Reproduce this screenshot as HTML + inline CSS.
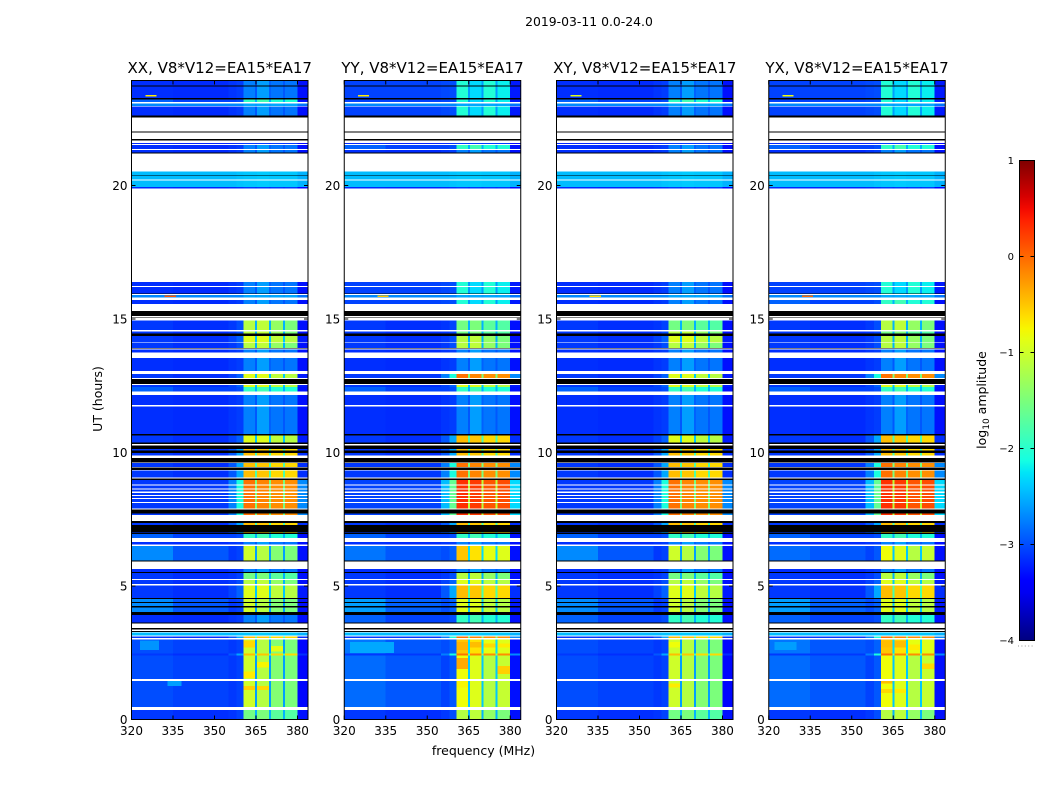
<!DOCTYPE html>
<html lang="en">
<head>
<meta charset="utf-8">
<title>2019-03-11 0.0-24.0 dynamic spectra</title>
<style>
html,body{margin:0;padding:0;background:#fff;}
svg{display:block;}
text{font-family:"DejaVu Sans","Liberation Sans",sans-serif;fill:#000;}
</style>
</head>
<body>
<svg id="chart" xmlns="http://www.w3.org/2000/svg" width="1050" height="800" viewBox="0 0 1050 800">
  <defs>
    <linearGradient id="jet" x1="0" y1="1" x2="0" y2="0"></linearGradient>
  </defs>
  <rect x="0" y="0" width="1050" height="800" fill="#fff"></rect>
  <text x="589" y="26" font-size="12.4" text-anchor="middle">2019-03-11 0.0-24.0</text>
  <text x="483.5" y="755" font-size="12.5" text-anchor="middle">frequency (MHz)</text>
  <text x="0" y="0" font-size="12.5" text-anchor="middle" transform="translate(102,399) rotate(-90)">UT (hours)</text>
  <g id="panels"></g>
  <g id="colorbar"></g>
  <text x="0" y="0" font-size="12.5" text-anchor="middle" transform="translate(986,400) rotate(-90)">log<tspan font-size="9" dy="3">10</tspan><tspan dy="-3"> amplitude</tspan></text>
</svg>
<script>
// ---- Data (log10 amplitude, UT hours, MHz) ----
const panelTitles = ['XX, V8*V12=EA15*EA17', 'YY, V8*V12=EA15*EA17', 'XY, V8*V12=EA15*EA17', 'YX, V8*V12=EA15*EA17'];
const xTickValues = [320, 335, 350, 365, 380];
const yTickValues = [0, 5, 10, 15, 20];
const colorbarTicks = [1, 0, -1, -2, -3, -4];
const columnEdges = [320, 335, 355, 358, 360.5, 364.7, 365.4, 369.7, 370.4, 374.7, 375.4, 380, 384];

// Mean spectrum shapes: one level per frequency column
const spectra = {
  A: [-3.18, -3.20, -3.18, -3.15, -3.10, -3.15, -3.10, -3.15, -3.10, -3.15, -3.10, -3.35],
  B: [-3.15, -3.17, -3.12, -3.08, -2.75, -2.95, -2.60, -2.90, -2.80, -2.95, -2.80, -3.30],
  C: [-3.05, -3.05, -3.02, -3.00, -2.05, -2.60, -2.30, -2.60, -2.05, -2.60, -2.20, -3.25],
  D: [-2.45, -2.45, -2.45, -2.42, -2.40, -2.40, -2.38, -2.40, -2.40, -2.40, -2.40, -2.50],
  E: [-2.70, -2.70, -2.70, -2.70, -2.55, -2.60, -2.55, -2.60, -2.55, -2.60, -2.55, -2.80],
  F: [-3.10, -3.15, -3.12, -3.05, -1.55, -2.50, -1.50, -2.50, -1.70, -2.50, -1.75, -3.30],
  G: [-3.10, -3.15, -3.10, -3.00, -1.15, -2.50, -1.10, -2.50, -1.35, -2.50, -1.50, -3.30],
  H: [-3.10, -3.15, -3.05, -2.90, -0.90, -2.40, -0.90, -2.40, -1.10, -2.40, -1.15, -3.25],
  I: [-3.10, -3.15, -2.95, -2.55, -0.45, -1.80, -0.50, -1.80, -0.60, -1.80, -0.60, -3.15],
  J: [-3.10, -3.10, -2.75, -2.10, -0.05, -1.50, -0.15, -1.50, -0.20, -1.50, -0.20, -2.70],
  K: [-3.05, -3.05, -2.45, -1.65, 0.30, -1.10, 0.25, -1.10, 0.10, -1.10, 0.15, -2.30],
  L: [-3.00, -3.05, -3.10, -3.05, -1.00, -2.60, -1.15, -2.60, -1.45, -2.60, -1.50, -3.35],
  M: [-2.85, -2.95, -3.05, -2.95, -0.80, -2.40, -0.90, -2.40, -1.15, -2.40, -1.05, -3.30],
  P: [-2.80, -2.95, -3.00, -2.90, -0.50, -2.30, -0.65, -2.30, -0.85, -2.30, -0.90, -3.30],
  S: [-2.90, -3.05, -3.05, -3.00, -1.95, -2.50, -1.85, -2.50, -2.05, -2.50, -2.05, -3.30],
  T: [-2.70, -2.95, -3.10, -3.05, -1.00, -2.60, -1.15, -2.60, -1.45, -2.60, -1.50, -3.30],
  U: [-2.60, -2.90, -3.00, -2.90, -0.90, -2.40, -0.90, -2.40, -1.10, -2.40, -1.15, -3.25]
};

// Observed time segments (white gaps between them carry no data)
const rowStart = [0.00, 0.47, 1.51, 2.40, 2.47, 3.05, 3.14, 3.63, 4.03, 4.25, 4.41, 4.55, 5.08, 5.26, 5.52, 5.95, 6.56, 6.80, 7.00, 7.28, 7.66, 7.91, 8.14, 8.30, 8.41, 8.53, 8.66, 8.81, 9.07, 9.45, 9.89, 10.07, 10.38, 10.69, 11.20, 11.78, 12.28, 12.45, 12.79, 13.06, 13.74, 13.92, 14.12, 14.45, 14.58, 15.57, 15.81, 15.96, 16.24, 19.88, 19.95, 20.00, 20.22, 20.40, 21.23, 21.37, 21.56, 22.62, 22.98, 23.12, 23.27, 23.74];
const rowEnd = [0.36, 1.44, 2.40, 2.47, 3.00, 3.10, 3.25, 3.91, 4.20, 4.37, 4.51, 5.02, 5.22, 5.49, 5.63, 6.50, 6.65, 6.95, 7.02, 7.36, 7.72, 8.10, 8.26, 8.37, 8.49, 8.62, 8.77, 8.97, 9.33, 9.60, 9.99, 10.13, 10.63, 11.20, 11.72, 12.15, 12.45, 12.52, 12.94, 13.54, 13.85, 14.10, 14.37, 14.54, 14.94, 15.72, 15.89, 16.20, 16.39, 19.95, 20.00, 20.19, 20.37, 20.52, 21.33, 21.52, 21.60, 22.96, 23.08, 23.23, 23.70, 23.93];
const xxRows = ['F','L','L','I','L','I','D','B','T','T','T','H','G','F','B','T','B','S','I','I','J','J','J','J','J','J','J','J','I','I','I','I','H','B','B','B','S','H','H','B','B','G','H','G','G','B','E','B','B','A','D','D','D','D','B','B','A','B','E','S','B','B'];
const yyRows = ['G','M','M','J','P','J','D','S','U','U','U','I','H','G','B','P','B','S','I','I','K','K','K','K','K','K','K','K','J','J','I','I','I','B','B','B','S','H','J','B','B','G','G','F','F','C','E','C','C','A','D','D','D','D','B','S','A','C','E','C','C','C'];
const xyRows = ['F','L','L','I','L','I','D','S','T','T','T','H','G','F','B','T','B','S','I','I','J','J','J','J','J','J','J','J','I','I','I','I','H','B','B','B','S','H','H','B','B','G','H','G','F','B','E','B','B','A','D','D','D','D','B','B','A','B','E','S','B','B'];
const yxRows = ['G','M','M','J','P','J','D','S','U','U','U','I','H','G','B','M','B','S','I','I','K','K','K','K','K','K','K','K','J','J','I','I','I','B','B','B','S','H','J','B','B','G','G','F','G','S','E','C','C','A','D','D','D','D','B','S','A','C','E','C','C','C'];

// Zero-amplitude (black) time segments
const blackStart = [3.28, 3.38, 3.60, 3.91, 4.20, 4.37, 4.51, 5.49, 5.92, 6.95, 7.02, 7.36, 7.72, 8.97, 9.35, 9.62, 9.99, 10.13, 10.31, 10.63, 12.56, 13.87, 14.37, 15.05, 15.12, 15.93, 20.37, 21.19, 21.68, 21.98, 22.55, 23.23, 23.70];
const blackEnd = [3.31, 3.42, 3.63, 4.03, 4.25, 4.41, 4.55, 5.52, 5.95, 7.00, 7.28, 7.43, 7.87, 9.03, 9.43, 9.80, 10.07, 10.26, 10.38, 10.69, 12.75, 13.90, 14.45, 15.07, 15.30, 15.96, 20.40, 21.23, 21.74, 22.03, 22.62, 23.27, 23.74];

// Local features: interference spots and brighter patches
const spotPanel = [0, 0, 1, 1, 2, 2, 3, 3,
  0, 0, 0, 0, 0, 0, 0, 0,
  1, 1, 1, 1, 1, 1, 1, 1,
  2, 2,
  3, 3, 3, 3, 3, 3, 3, 3];
const spotFreqStart = [325, 332, 325, 332, 325, 332, 325, 332,
  360.5, 360.5, 365.4, 360.5, 365.4, 370.4, 323, 333,
  360.5, 365.4, 370.4, 375.4, 360.5, 375.4, 360.5, 322,
  360.5, 360.5,
  360.5, 365.4, 370.4, 360.5, 375.4, 360.5, 365.4, 322];
const spotFreqEnd = [329, 336, 329, 336, 329, 336, 329, 336,
  364.7, 364.7, 369.7, 364.7, 369.7, 374.7, 330, 338,
  364.7, 369.7, 374.7, 380, 364.7, 380, 364.7, 338,
  364.7, 364.7,
  364.7, 369.7, 374.7, 364.7, 380, 364.7, 369.7, 330];
const spotHourStart = [23.33, 15.83, 23.33, 15.83, 23.33, 15.83, 23.33, 15.83,
  2.70, 1.55, 1.95, 1.10, 1.10, 2.55, 2.60, 1.25,
  2.60, 2.70, 2.70, 2.70, 1.90, 1.70, 1.20, 2.50,
  1.20, 2.70,
  2.70, 2.70, 2.60, 1.35, 1.90, 1.00, 1.00, 2.60];
const spotHourEnd = [23.39, 15.88, 23.39, 15.88, 23.39, 15.88, 23.39, 15.88,
  2.95, 1.80, 2.15, 1.25, 1.25, 2.75, 2.95, 1.45,
  2.90, 2.90, 2.85, 2.85, 2.30, 2.00, 1.44, 2.90,
  1.35, 2.90,
  2.95, 2.95, 2.80, 1.44, 2.10, 1.15, 1.15, 2.90];
const spotValue = [-0.7, 0.1, -0.7, -0.5, -0.9, -0.6, -0.8, 0.0,
  -0.6, -0.7, -0.75, -0.55, -0.6, -0.85, -2.65, -2.6,
  -0.4, -0.45, -0.6, -0.7, -0.35, -0.55, -0.75, -2.55,
  -0.7, -0.8,
  -0.45, -0.45, -0.7, -0.45, -0.6, -0.6, -0.7, -2.6];

// ---- Rendering ----
const panelRows = [xxRows, yyRows, xyRows, yxRows];
const panelLeft = [131.5, 344.25, 556.5, 768.75];
const panelWidth = 176.5;
const axisTop = 80.5;
const axisBottom = 719.5;
const xMin = 320;
const xMax = 383.8;
const hourScale = 26.7;
const colorMin = -4;
const colorMax = 1;
const NS = 'http://www.w3.org/2000/svg';

function xAt(panel, freq) {
  const clamped = Math.min(freq, xMax);
  return panelLeft[panel] + (clamped - xMin) / (xMax - xMin) * panelWidth;
}
function yAt(hour) {
  return axisBottom - hour * hourScale;
}
function jetChannel(t, points) {
  for (let i = 1; i < points.length; i++) {
    if (t <= points[i][0]) {
      const a = points[i - 1];
      const b = points[i];
      return a[1] + (b[1] - a[1]) * (t - a[0]) / (b[0] - a[0]);
    }
  }
  return points[points.length - 1][1];
}
function jet(t) {
  const r = jetChannel(t, [[0, 0], [0.35, 0], [0.66, 1], [0.89, 1], [1, 0.5]]);
  const g = jetChannel(t, [[0, 0], [0.125, 0], [0.375, 1], [0.64, 1], [0.91, 0], [1, 0]]);
  const b = jetChannel(t, [[0, 0.5], [0.11, 1], [0.34, 1], [0.65, 0], [1, 0]]);
  return 'rgb(' + Math.round(r * 255) + ',' + Math.round(g * 255) + ',' + Math.round(b * 255) + ')';
}
function colorFor(value) {
  return jet(Math.max(0, Math.min(1, (value - colorMin) / (colorMax - colorMin))));
}
function make(tag, parent, props) {
  const el = document.createElementNS(NS, tag);
  for (const key in props) {
    el.setAttribute(key, props[key]);
  }
  parent.appendChild(el);
  return el;
}

const panelsGroup = document.getElementById('panels');
panelTitles.forEach(function (title, p) {
  const group = make('g', panelsGroup, {});
  
  
  const cells = make('g', group, { 'shape-rendering': 'crispEdges' });
  
  

  rowStart.forEach(function (start, r) {
    const levels = spectra[panelRows[p][r]];
    levels.forEach(function (level, c) {
      const x0 = xAt(p, columnEdges[c]);
      const x1 = xAt(p, columnEdges[c + 1]);
      const yTop = yAt(rowEnd[r]);
      const yBottom = yAt(start);
      const cell = make('rect', cells, { x: x0, y: yTop, width: x1 - x0, height: yBottom - yTop, fill: colorFor(level) });
      
      
    });
  });

  blackStart.forEach(function (start, b) {
    const yTop = yAt(blackEnd[b]);
    const band = make('rect', cells, { x: panelLeft[p], y: yTop, width: panelWidth, height: yAt(start) - yTop, fill: '#000' });
    
    
  });

  spotPanel.forEach(function (owner, s) {
    if (owner !== p) { return; }
    const x0 = xAt(p, spotFreqStart[s]);
    const yTop = yAt(spotHourEnd[s]);
    const spot = make('rect', cells, { x: x0, y: yTop, width: xAt(p, spotFreqEnd[s]) - x0, height: yAt(spotHourStart[s]) - yTop, fill: colorFor(spotValue[s]) });
    
    
  });

  const frame = make('rect', group, { x: panelLeft[p], y: axisTop, width: panelWidth, height: axisBottom - axisTop, fill: 'none', stroke: '#000', 'stroke-width': 1 });
  
  

  const titleEl = make('text', group, { x: panelLeft[p] + panelWidth / 2, y: 73, 'font-size': 15, 'text-anchor': 'middle' });
  titleEl.textContent = title;
  
  

  xTickValues.forEach(function (value) {
    const x = xAt(p, value);
    const tick = make('path', group, { d: 'M' + x + ' ' + axisBottom + 'v-4M' + x + ' ' + axisTop + 'v4', stroke: '#000', 'stroke-width': 1, fill: 'none' });
    
    
    const label = make('text', group, { x: x, y: 735, 'font-size': 12, 'text-anchor': 'middle' });
    label.textContent = String(value);
    
    
  });

  yTickValues.forEach(function (value) {
    const y = yAt(value);
    const tick = make('path', group, { d: 'M' + panelLeft[p] + ' ' + y + 'h4M' + (panelLeft[p] + panelWidth) + ' ' + y + 'h-4', stroke: '#000', 'stroke-width': 1, fill: 'none' });
    
    
    const label = make('text', group, { x: panelLeft[p] - 4, y: y + 4.5, 'font-size': 12, 'text-anchor': 'end' });
    label.textContent = String(value);
    
    
  });
});

// Colorbar
const gradient = document.getElementById('jet');
for (let i = 0; i <= 40; i++) {
  make('stop', gradient, { offset: (i / 40), 'stop-color': jet(i / 40) });
}
const barGroup = document.getElementById('colorbar');
const barLeft = 1019.5;
const barWidth = 15;
const barTop = 160.5;
const barBottom = 640.5;
function barY(value) {
  return barBottom - (value - colorMin) / (colorMax - colorMin) * (barBottom - barTop);
}
const barFill = make('rect', barGroup, { x: barLeft, y: barTop, width: barWidth, height: barBottom - barTop, fill: 'url(#jet)', stroke: '#000', 'stroke-width': 1 });


colorbarTicks.forEach(function (value) {
  const y = barY(value);
  const tick = make('path', barGroup, { d: 'M' + barLeft + ' ' + y + 'h4M' + (barLeft + barWidth) + ' ' + y + 'h-4', stroke: '#000', 'stroke-width': 1, fill: 'none' });
  
  
  const label = make('text', barGroup, { x: 1014, y: y + 3.5, 'font-size': 10, 'text-anchor': 'end' });
  label.textContent = value < 0 ? '\u2212' + Math.abs(value) : String(value);
  
  
});
const dots = make('path', barGroup, { d: 'M1018 646h17', stroke: '#999', 'stroke-width': 1, 'stroke-dasharray': '1 2.4', fill: 'none' });


</script>
</body>
</html>
